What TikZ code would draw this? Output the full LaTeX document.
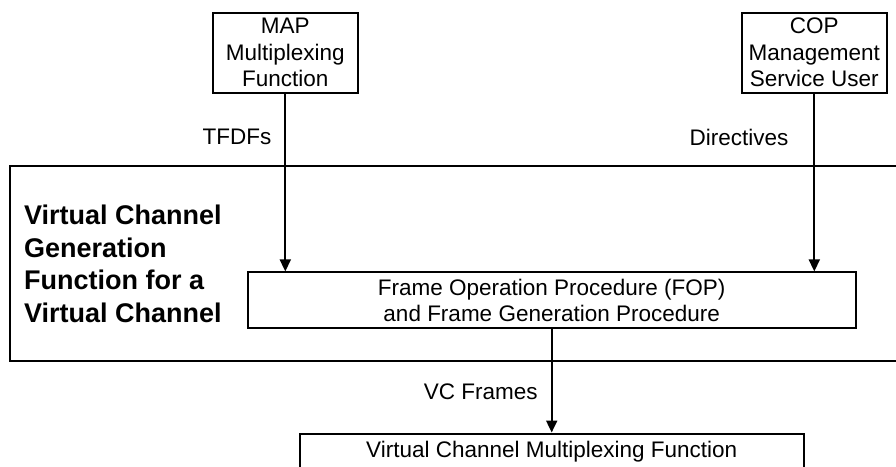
\documentclass[tikz,border=0pt]{standalone}
\usepackage{fontspec}
\setmainfont{Liberation Sans}
\usetikzlibrary{arrows.meta}
\begin{document}
\begin{tikzpicture}[x=1pt,y=-1pt]
        \tikzset{box/.style={draw,line width=2pt,inner sep=0pt,align=center,
            font=\fontsize{22.5}{26.5}\selectfont}}
        \tikzset{flow/.style={line width=2pt,-{Triangle[width=11pt,length=12pt]}}}

        %% Keep the page at the size of the original figure; the outer
        %% box and the bottom box simply run off the edge of it.
        \useasboundingbox (0,0) rectangle (896,466);

        %% Draw the outer box and its title
        \draw[line width=2pt] (10,166) rectangle (912,361);
        \node (title) at (24,264) [anchor=west,inner sep=0pt,align=left,
          font=\fontsize{27}{32.5}\selectfont\bfseries]
          {Virtual Channel\\Generation\\Function for a\\Virtual Channel};

        %% Draw the boxes
        \node (map) at (285.3,52.5) [box,minimum width=145pt,minimum height=80pt]
          {MAP\\Multiplexing\\Function};
        \node (cop) at (814.3,52.5) [box,minimum width=145pt,minimum height=80pt]
          {COP\\Management\\Service User};
        \node (fop) at (551.7,300.4) [box,minimum width=608pt,minimum height=56pt]
          {Frame Operation Procedure (FOP)\\and Frame Generation Procedure};
        \node (vcm) at (551.7,452) [box,minimum width=504pt,minimum height=37pt]
          {Virtual Channel Multiplexing Function};

        %% Write legend.  The labels sit left of the arrows, right aligned.
        \tikzset{legend/.style={anchor=east,inner sep=0pt,
            font=\fontsize{22.5}{26.5}\selectfont}}
        \draw[flow] (map.south) -- node[legend,pos=.245,xshift=-13pt] {TFDFs}
          (map.south |- fop.north);
        \draw[flow] (cop.south) -- node[legend,pos=.245,xshift=-25pt] {Directives}
          (cop.south |- fop.north);
        \draw[flow] (fop.south) -- node[legend,pos=.604,xshift=-13pt] {VC Frames}
          (fop.south |- vcm.north);

      \end{tikzpicture}
\end{document}
